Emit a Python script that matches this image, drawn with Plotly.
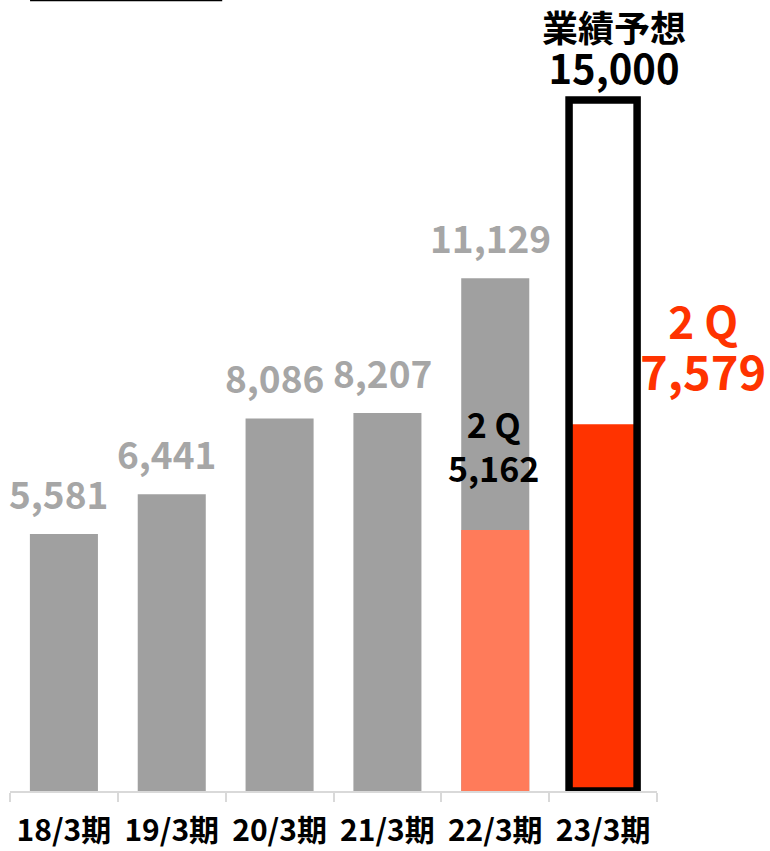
import plotly.graph_objects as go

# ---- data ----
categories = ["18/3期", "19/3期", "20/3期", "21/3期", "22/3期", "23/3期"]
annual_cats = ["18/3期", "19/3期", "20/3期", "21/3期", "22/3期"]
annual_values = [5581, 6441, 8086, 8207, 11129]
annual_labels = ["5,581", "6,441", "8,086", "8,207", "11,129"]

q2_prev_cat = "22/3期"
q2_prev_bar = 5665          # drawn height
q2_prev_label = "5,162"

q2_curr_cat = "23/3期"
q2_curr_bar = 7960          # drawn height
q2_curr_label = "7,579"

forecast_cat = "23/3期"
forecast_value = 15000
forecast_label = "15,000"
forecast_title = "業績予想"

FONT = "Noto Sans CJK JP"
GRAY = "#A0A0A0"
GRAY_TXT = "#A6A6A6"
ORANGE = "#FF7B5A"
RED = "#FF3300"

fig = go.Figure()
fig.add_trace(go.Bar(x=annual_cats, y=annual_values, marker=dict(color=GRAY, line=dict(width=0))))
fig.add_trace(go.Bar(x=[q2_prev_cat], y=[q2_prev_bar], marker=dict(color=ORANGE, line=dict(width=0))))
fig.add_trace(go.Bar(x=[q2_curr_cat], y=[q2_curr_bar], marker=dict(color=RED, line=dict(width=0))))
fig.add_trace(go.Bar(x=[forecast_cat], y=[forecast_value],
                     marker=dict(color="rgba(0,0,0,0)", line=dict(color="black", width=7.5))))

ann = []
for c, v, t in zip(annual_cats, annual_values, annual_labels):
    ann.append(dict(x=c, y=v, text=t, showarrow=False, yanchor="middle", yshift=41, xshift=-5,
                    font=dict(family=FONT, size=37, color=GRAY_TXT, weight="bold")))
ann.append(dict(x=q2_prev_cat, y=q2_prev_bar, text="2 Q<br>" + q2_prev_label, showarrow=False,
                yanchor="middle", yshift=85, xshift=-2,
                font=dict(family=FONT, size=34, color="black", weight="bold")))
ann.append(dict(x=q2_curr_cat, y=q2_curr_bar,
                text="<span style='font-size:44px'>2 Q</span><br><span style='font-size:47px'>" + q2_curr_label + "</span>",
                showarrow=False, yanchor="middle", yshift=78, xshift=100,
                font=dict(family=FONT, size=39, color=RED, weight="bold")))
ann.append(dict(x=forecast_cat, y=forecast_value,
                text="<span style='font-size:36px'>" + forecast_title + "</span><br><span style='font-size:40px'>" + forecast_label + "</span>",
                showarrow=False, yanchor="middle", yshift=52, xshift=11,
                font=dict(family=FONT, size=32, color="black", weight="bold")))

fig.update_layout(
    width=770, height=851,
    margin=dict(l=10, r=113, t=0, b=60),
    paper_bgcolor="white", plot_bgcolor="white",
    barmode="overlay", bargap=0.369,
    showlegend=False,
    annotations=ann,
    shapes=[dict(type="line", xref="paper", yref="paper", x0=0.031, x1=0.328, y0=0.9993, y1=0.9993,
                 line=dict(color="black", width=1.5))],
    xaxis=dict(categoryorder="array", categoryarray=categories, range=[-0.5, 5.5],
               showline=True, linecolor="#D9D9D9", linewidth=2,
               ticks="outside", ticklen=9, tickcolor="#D9D9D9", tickwidth=2, tickson="boundaries",
               ticklabelstandoff=12,
               tickfont=dict(family=FONT, size=30, color="black", weight="bold"),
               showgrid=False, zeroline=False),
    yaxis=dict(range=[0, 17170], visible=False, showgrid=False, zeroline=False),
)

fig.write_html("out.html")
